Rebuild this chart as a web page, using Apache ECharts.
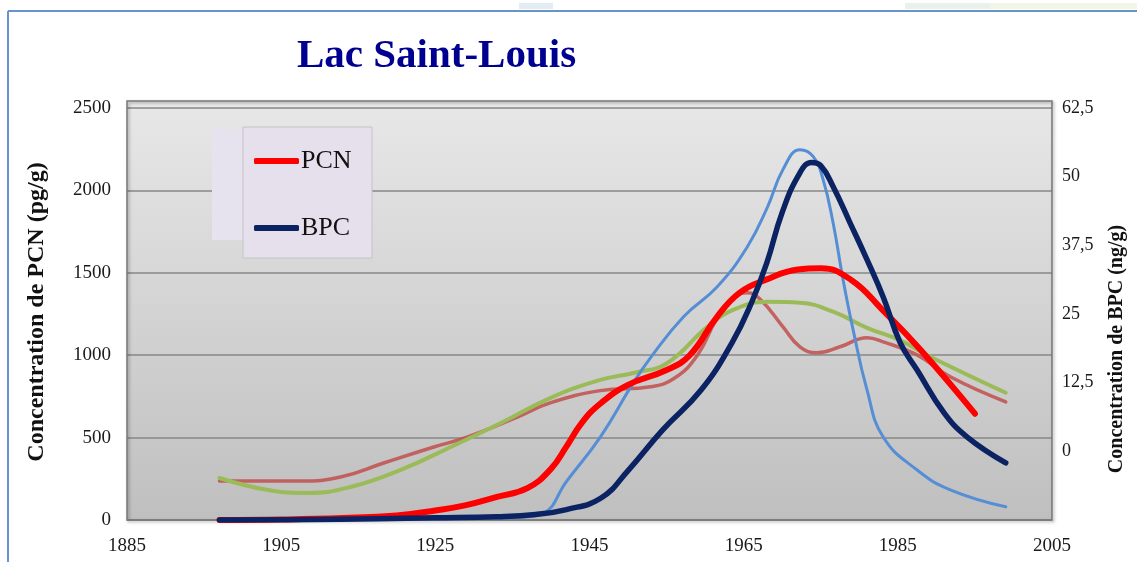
<!DOCTYPE html>
<html>
<head>
<meta charset="utf-8">
<script src="https://cdn.jsdelivr.net/npm/echarts@6/dist/echarts.min.js"></script>
<style>
  html, body { margin: 0; padding: 0; background: #ffffff; }
  #chart { width: 1137px; height: 562px; }
</style>
</head>
<body>
<div id="chart"></div>
<script>
// Axis settings
const xTicks = [1885, 1905, 1925, 1945, 1965, 1985, 2005];
const leftTicks = [0, 500, 1000, 1500, 2000, 2500];
const rightTicks = [-12.5, 0, 12.5, 25, 37.5, 50, 62.5];

// PCN (pg/g), left axis
const pcnYears  = [1897, 1905, 1913, 1920, 1925, 1929, 1933, 1937, 1940, 1942, 1944, 1946.5, 1950, 1955, 1958, 1961.5, 1964.5, 1968, 1972, 1975, 1979, 1983, 1988, 1995];
const pcnValues = [0, 3, 12, 28, 58, 90, 140, 195, 310, 445, 590, 710, 820, 910, 1000, 1230, 1380, 1460, 1520, 1528, 1455, 1275, 1030, 645];

// BPC (ng/g), right axis
const bpcYears  = [1897, 1910, 1925, 1933, 1938, 1942, 1946.5, 1950, 1954.5, 1959.5, 1963.5, 1966, 1968, 1970, 1972.3, 1973.8, 1975, 1976.6, 1978.8, 1981, 1983.1, 1985.3, 1987.5, 1991, 1994, 1999];
const bpcValues = [-12.5, -12.4, -12.1, -11.9, -11.5, -10.6, -8.5, -3.5, 3.9, 11.2, 19.8, 27, 34.3, 43.5, 50.7, 52.6, 52, 48.2, 41.6, 34.9, 28.1, 19.8, 14.8, 7.0, 2.6, -2.1];

// Second BPC profile (light blue), right axis
const bpc2Years  = [1897, 1915, 1930, 1936, 1939, 1942, 1946.4, 1950.7, 1953, 1957.2, 1961.6, 1965.5, 1968.1, 1970.1, 1972.3, 1974, 1975.3, 1976.6, 1977.9, 1979.2, 1981, 1983.1, 1987.5, 1991.8, 1999];
const bpc2Values = [-12.5, -12.4, -12.2, -12, -11.3, -5.5, 2.6, 12.5, 17.2, 24.5, 30.0, 37.3, 44.5, 51.3, 54.9, 53.7, 49.5, 41.6, 31.2, 22.1, 11.2, 2.6, -3.4, -7.0, -10.1];

// Second PCN profile (brown-red), left axis
const pcn2Years  = [1897, 1907.5, 1912.7, 1918.3, 1924.8, 1929.2, 1935.7, 1939.9, 1946.4, 1952.9, 1956, 1959, 1961.5, 1963.7, 1965.5, 1967.2, 1970.1, 1972.3, 1974.5, 1977.5, 1981, 1983.1, 1987.5, 1991.8, 1999];
const pcn2Values = [237, 237, 261, 346, 443, 504, 626, 711, 785, 808, 860, 1000, 1220, 1350, 1379, 1337, 1172, 1051, 1015, 1051, 1106, 1081, 1002, 869, 717];

// Third PCN profile (green), left axis
const pcn3Years  = [1897, 1903.3, 1908.5, 1914, 1920.5, 1927, 1933.5, 1939.9, 1946.4, 1951, 1955, 1960.3, 1963.7, 1968.1, 1972.3, 1976.6, 1981, 1985.3, 1988.8, 1999];
const pcn3Values = [255, 182, 164, 200, 304, 443, 589, 740, 850, 895, 950, 1172, 1276, 1324, 1318, 1264, 1166, 1090, 1000, 772];

const pairs = (xs, ys) => xs.map((x, i) => [x, ys[i]]);
const commaDecimal = v => String(v).replace('.', ',');

const SERIF = '"Liberation Serif", "Times New Roman", serif';
const chart = echarts.init(document.getElementById('chart'), null, { renderer: 'canvas' });

const lineSeries = (name, xs, ys, yAxisIndex, color, width, z, opacity) => ({
  name: name,
  type: 'line',
  yAxisIndex: yAxisIndex,
  data: pairs(xs, ys),
  smooth: 0.45,
  showSymbol: false,
  symbol: 'none',
  z: z,
  lineStyle: { color: color, width: width, cap: 'round', join: 'round', opacity: opacity },
  itemStyle: { color: color },
  emphasis: { disabled: true }
});

chart.setOption({
  animation: false,
  backgroundColor: '#ffffff',
  title: {
    text: 'Lac Saint-Louis',
    left: 297,
    top: 36,
    padding: 0,
    textStyle: { fontFamily: SERIF, fontSize: 41, fontWeight: 'bold', color: '#000090' }
  },
  legend: {
    data: ['PCN', 'BPC'],
    orient: 'vertical',
    left: 254,
    top: 148,
    padding: 0,
    z: 20,
    itemWidth: 45,
    itemHeight: 6,
    itemGap: 41,
    icon: 'roundRect',
    selectedMode: false,
    textStyle: { fontFamily: SERIF, fontSize: 26, color: '#111111', padding: [0, 0, 0, -3] }
  },
  grid: {
    left: 127, right: 85, top: 108, bottom: 42,
    show: true,
    borderWidth: 0,
    backgroundColor: {
      type: 'linear', x: 0, y: 0, x2: 0, y2: 1,
      colorStops: [{ offset: 0, color: '#e7e7e7' }, { offset: 1, color: '#bfbfbf' }]
    }
  },
  xAxis: {
    type: 'value',
    min: xTicks[0],
    max: xTicks[xTicks.length - 1],
    interval: xTicks[1] - xTicks[0],
    axisLine: { show: false },
    axisTick: { show: false },
    splitLine: { show: false },
    axisLabel: { fontFamily: SERIF, fontSize: 19, color: '#1a1a1a', margin: 17, formatter: v => String(v) }
  },
  yAxis: [
    {
      type: 'value',
      min: leftTicks[0],
      max: leftTicks[leftTicks.length - 1],
      interval: leftTicks[1] - leftTicks[0],
      axisLine: { show: false },
      axisTick: { show: false },
      splitLine: { show: true, lineStyle: { color: '#878787', width: 1.5 } },
      axisLabel: { fontFamily: SERIF, fontSize: 19, color: '#1a1a1a', margin: 16, formatter: v => String(v) }
    },
    {
      type: 'value',
      position: 'right',
      min: rightTicks[0],
      max: rightTicks[rightTicks.length - 1],
      interval: rightTicks[1] - rightTicks[0],
      axisLine: { show: false },
      axisTick: { show: false },
      splitLine: { show: false },
      axisLabel: {
        fontFamily: SERIF, fontSize: 18, color: '#1a1a1a', margin: 10,
        formatter: v => (v < 0 ? '' : commaDecimal(v))
      }
    }
  ],
  graphic: [
    // outer blue frame
    { type: 'line', shape: { x1: 8, y1: 11, x2: 1137, y2: 11 }, style: { stroke: '#6b93cb', lineWidth: 2 }, silent: true },
    { type: 'line', shape: { x1: 8, y1: 11, x2: 8, y2: 562 }, style: { stroke: '#6b93cb', lineWidth: 2 }, silent: true },
    { type: 'rect', shape: { x: 519, y: 3, width: 34, height: 6 }, style: { fill: '#e3edf1' }, silent: true },
    { type: 'rect', shape: { x: 905, y: 3, width: 85, height: 6 }, style: { fill: '#e8f1ea' }, silent: true },
    { type: 'rect', shape: { x: 990, y: 3, width: 147, height: 6 }, style: { fill: '#f1f6e6' }, silent: true },
    // strip above the top gridline, inside the plot frame
    { type: 'rect', shape: { x: 127, y: 101, width: 925, height: 7 }, style: { fill: '#e9e9e9' }, silent: true },
    // plot frame
    {
      type: 'rect', z: 1,
      shape: { x: 127, y: 101, width: 925, height: 419 },
      style: { fill: 'none', stroke: '#777777', lineWidth: 1.5, shadowBlur: 3, shadowOffsetX: 1.5, shadowOffsetY: 1.5, shadowColor: 'rgba(0,0,0,0.35)' },
      silent: true
    },
    // legend panels
    { type: 'rect', z: 1, shape: { x: 212, y: 129, width: 31, height: 111 }, style: { fill: '#e7e3ee' }, silent: true },
    { type: 'rect', z: 1, shape: { x: 243, y: 127, width: 129, height: 131 }, style: { fill: '#e5e0ec', stroke: '#c4c4c4', lineWidth: 1 }, silent: true },
    // axis titles
    {
      type: 'text', x: 37, y: 312, rotation: Math.PI / 2,
      style: { text: 'Concentration de PCN (pg/g)', font: 'bold 24px ' + SERIF, fill: '#111111', textAlign: 'center', textVerticalAlign: 'middle' },
      silent: true
    },
    {
      type: 'text', x: 1117, y: 349, rotation: Math.PI / 2,
      style: { text: 'Concentration de BPC (ng/g)', font: 'bold 20px ' + SERIF, fill: '#111111', textAlign: 'center', textVerticalAlign: 'middle' },
      silent: true
    }
  ],
  series: [
    lineSeries('PCN profil 2', pcn2Years, pcn2Values, 0, '#c0504d', 3.5, 2, 0.85),
    lineSeries('PCN profil 3', pcn3Years, pcn3Values, 0, '#9bbb59', 4, 3, 1),
    lineSeries('BPC profil 2', bpc2Years, bpc2Values, 1, '#558ed5', 3, 4, 1),
    lineSeries('PCN', pcnYears, pcnValues, 0, '#ff0000', 6, 5, 1),
    lineSeries('BPC', bpcYears, bpcValues, 1, '#0c2363', 5.5, 6, 1)
  ]
});
</script>
</body>
</html>
